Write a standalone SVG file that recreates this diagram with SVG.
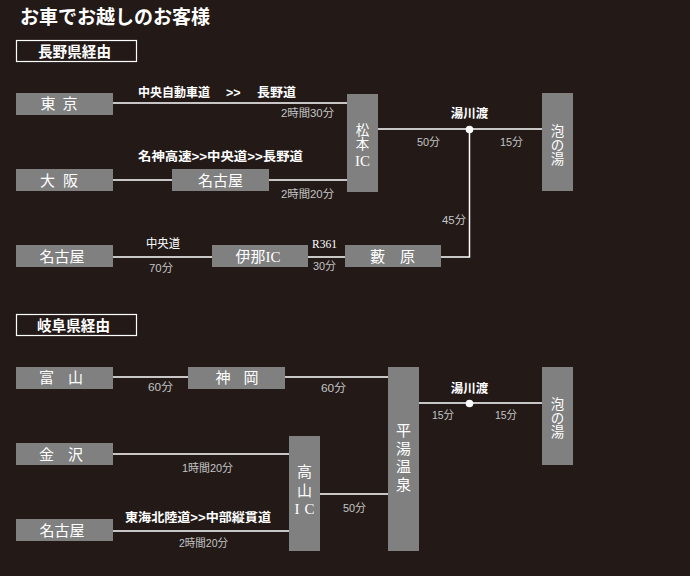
<svg xmlns="http://www.w3.org/2000/svg" width="690" height="576" viewBox="0 0 690 576">
<style>
.bg{fill:#231a18}
.box{fill:#808080}
.frame{fill:none;stroke:#fff;stroke-width:1.2}
.ln{stroke:#fff;stroke-width:1.5;fill:none}
.nl{font-family:"Liberation Serif","Noto Sans CJK JP",serif;font-size:15px;fill:#fff;text-anchor:middle}
.vt{font-family:"Liberation Serif","Noto Sans CJK JP",serif;font-size:13.5px;fill:#fff;text-anchor:middle}
.hd{font-family:"Liberation Serif","Noto Sans CJK JP",serif;font-size:15px;fill:#fff;font-weight:bold}
.ttl{font-family:"Liberation Serif","Noto Sans CJK JP",serif;font-size:19px;fill:#fff;font-weight:bold}
.rt{font-family:"Liberation Sans","Noto Sans CJK JP",sans-serif;font-size:12.5px;fill:#fff;font-weight:bold}
.rn{font-family:"Liberation Sans","Noto Sans CJK JP",sans-serif;font-size:12px;fill:#fff}
.tm{font-family:"Liberation Sans","Noto Sans CJK JP",sans-serif;font-size:11px;fill:#c4c4c4}
.sv{font-family:"Liberation Serif","Noto Sans CJK JP",serif;font-size:12px;fill:#fff}
</style>
<rect class="bg" x="0" y="0" width="690" height="576"/>
<text class="ttl" x="20" y="24" textLength="190" lengthAdjust="spacingAndGlyphs">お車でお越しのお客様</text>

<g id="sec1">
<rect class="frame" x="16.5" y="40.5" width="120" height="21"/>
<text class="hd" x="38" y="57" textLength="73" lengthAdjust="spacingAndGlyphs">長野県経由</text>
</g>
<g id="sec2">
<rect class="frame" x="16.5" y="314.5" width="120" height="21"/>
<text class="hd" x="37" y="331" textLength="73" lengthAdjust="spacingAndGlyphs">岐阜県経由</text>
</g>

<g id="connectors">
<path class="ln" d="M113 103H347"/>
<path class="ln" d="M113 180H172M269 180H347"/>
<path class="ln" d="M378 129H542"/>
<path class="ln" d="M113 257H212M308 257H345M441 257H469.5V129"/>
<circle cx="469.5" cy="129.5" r="3.8" fill="#fff"/>
<path class="ln" d="M113 377H188M285 377H388"/>
<path class="ln" d="M419 403H542"/>
<circle cx="469.5" cy="403.5" r="3.8" fill="#fff"/>
<path class="ln" d="M113 454H289"/>
<path class="ln" d="M113 531H289"/>
<path class="ln" d="M320 494H388"/>
</g>

<g id="labels">
<text class="rt" x="138" y="97" textLength="72" lengthAdjust="spacingAndGlyphs">中央自動車道</text>
<text class="rt" x="226" y="97">&gt;&gt;</text>
<text class="rt" x="257" y="97" textLength="39" lengthAdjust="spacingAndGlyphs">長野道</text>
<text class="tm" x="281" y="117" textLength="53" lengthAdjust="spacingAndGlyphs">2時間30分</text>
<text class="rt" x="138" y="161" textLength="165" lengthAdjust="spacingAndGlyphs">名神高速&gt;&gt;中央道&gt;&gt;長野道</text>
<text class="tm" x="281" y="198" textLength="53" lengthAdjust="spacingAndGlyphs">2時間20分</text>
<text class="rt" x="469.5" y="118" text-anchor="middle">湯川渡</text>
<text class="tm" x="417" y="146" textLength="23" lengthAdjust="spacingAndGlyphs">50分</text>
<text class="tm" x="500" y="146" textLength="23" lengthAdjust="spacingAndGlyphs">15分</text>
<text class="tm" x="442" y="224" textLength="24" lengthAdjust="spacingAndGlyphs">45分</text>
<text class="rn" x="146" y="248" textLength="34" lengthAdjust="spacingAndGlyphs">中央道</text>
<text class="tm" x="149" y="272" textLength="24" lengthAdjust="spacingAndGlyphs">70分</text>
<text class="sv" x="312" y="248" textLength="25" lengthAdjust="spacingAndGlyphs">R361</text>
<text class="tm" x="313" y="270" textLength="23" lengthAdjust="spacingAndGlyphs">30分</text>

<text class="tm" x="148" y="391" textLength="25" lengthAdjust="spacingAndGlyphs">60分</text>
<text class="tm" x="321" y="392" textLength="25" lengthAdjust="spacingAndGlyphs">60分</text>
<text class="rt" x="469.5" y="393" text-anchor="middle">湯川渡</text>
<text class="tm" x="432" y="419" textLength="22" lengthAdjust="spacingAndGlyphs">15分</text>
<text class="tm" x="495" y="419" textLength="22" lengthAdjust="spacingAndGlyphs">15分</text>
<text class="tm" x="182" y="472" textLength="51" lengthAdjust="spacingAndGlyphs">1時間20分</text>
<text class="rt" x="125" y="522" textLength="146" lengthAdjust="spacingAndGlyphs">東海北陸道&gt;&gt;中部縦貫道</text>
<text class="tm" x="179" y="547" textLength="49" lengthAdjust="spacingAndGlyphs">2時間20分</text>
<text class="tm" x="343" y="512" textLength="23" lengthAdjust="spacingAndGlyphs">50分</text>
</g>

<g id="tokyo"><rect class="box" x="16" y="93" width="97" height="22"/><text class="nl" x="59" y="109" textLength="37" lengthAdjust="spacing">東 京</text></g>
<g id="osaka"><rect class="box" x="16" y="169" width="97" height="22"/><text class="nl" x="59" y="186" textLength="38" lengthAdjust="spacing">大 阪</text></g>
<g id="nagoya1"><rect class="box" x="172" y="169" width="97" height="22"/><text class="nl" x="220.5" y="186">名古屋</text></g>
<g id="matsumoto"><rect class="box" x="347" y="94" width="31" height="98"/>
<text class="vt" x="362.5" y="135">松</text><text class="vt" x="362.5" y="149">本</text><text class="vt" x="362.5" y="166" style="font-size:15px">IC</text></g>
<g id="awanoyu1"><rect class="box" x="542" y="93" width="31" height="98"/>
<text class="vt" x="557.5" y="136">泡</text><text class="vt" x="557.5" y="150">の</text><text class="vt" x="557.5" y="164">湯</text></g>
<g id="nagoya2"><rect class="box" x="16" y="245" width="97" height="22"/><text class="nl" x="62" y="262">名古屋</text></g>
<g id="inaic"><rect class="box" x="212" y="245" width="96" height="22"/><text class="nl" x="258" y="262">伊那IC</text></g>
<g id="yabuhara"><rect class="box" x="345" y="245" width="96" height="22"/><text class="nl" x="392.5" y="262" textLength="45" lengthAdjust="spacing">藪  原</text></g>

<g id="toyama"><rect class="box" x="16" y="367" width="97" height="22"/><text class="nl" x="61" y="383" textLength="44" lengthAdjust="spacing">富  山</text></g>
<g id="kamioka"><rect class="box" x="188" y="367" width="97" height="22"/><text class="nl" x="237" y="383" textLength="43" lengthAdjust="spacing">神  岡</text></g>
<g id="hirayu"><rect class="box" x="388" y="367" width="31" height="184"/>
<text class="nl" x="403.5" y="436">平</text><text class="nl" x="403.5" y="454">湯</text><text class="nl" x="403.5" y="472">温</text><text class="nl" x="403.5" y="490">泉</text></g>
<g id="awanoyu2"><rect class="box" x="542" y="367" width="31" height="98"/>
<text class="vt" x="557.5" y="409">泡</text><text class="vt" x="557.5" y="423">の</text><text class="vt" x="557.5" y="437">湯</text></g>
<g id="kanazawa"><rect class="box" x="16" y="443" width="97" height="22"/><text class="nl" x="61" y="460" textLength="44" lengthAdjust="spacing">金  沢</text></g>
<g id="nagoya3"><rect class="box" x="16" y="519" width="97" height="22"/><text class="nl" x="62" y="536">名古屋</text></g>
<g id="takayamaic"><rect class="box" x="289" y="436" width="31" height="115"/>
<text class="nl" x="304.5" y="477">高</text><text class="nl" x="304.5" y="496">山</text><text class="nl" x="304.5" y="514" textLength="20" lengthAdjust="spacing">I C</text></g>
</svg>
